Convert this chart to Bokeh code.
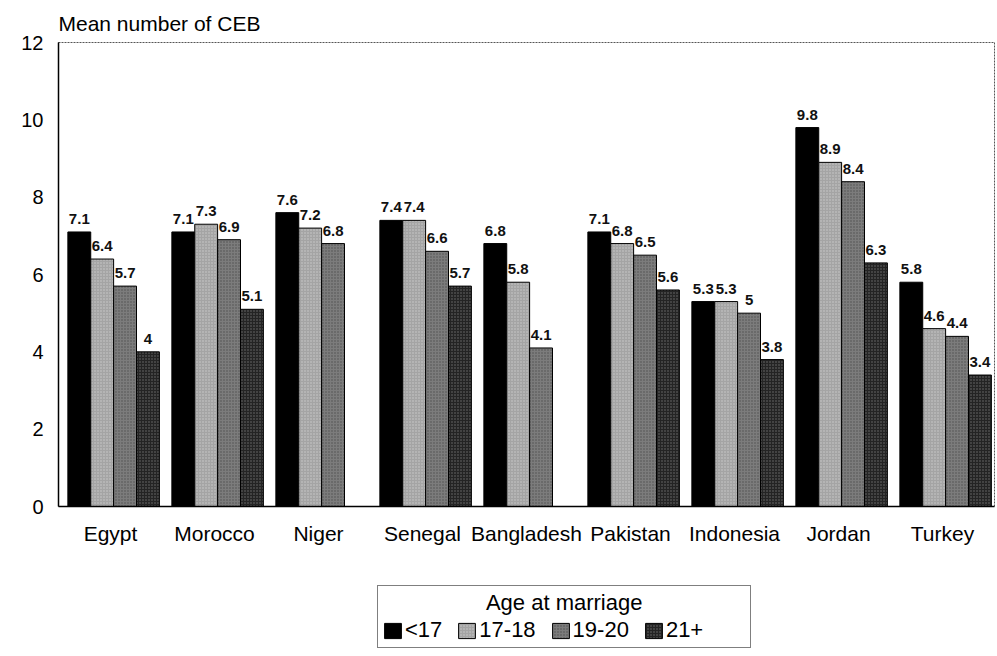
from bokeh.plotting import figure
from bokeh.layouts import column
from bokeh.models import ColumnDataSource, Legend, LegendItem, Range1d, FactorRange, FixedTicker
from bokeh.transform import dodge
from bokeh.embed import file_html
from bokeh.resources import INLINE
from bokeh.core.properties import value

countries = ["Egypt", "Morocco", "Niger", "Senegal", "Bangladesh", "Pakistan", "Indonesia", "Jordan", "Turkey"]
groups = ["<17", "17-18", "19-20", "21+"]
age_lt17 = [7.1, 7.1, 7.6, 7.4, 6.8, 7.1, 5.3, 9.8, 5.8]
age_17_18 = [6.4, 7.3, 7.2, 7.4, 5.8, 6.8, 5.3, 8.9, 4.6]
age_19_20 = [5.7, 6.9, 6.8, 6.6, 4.1, 6.5, 5.0, 8.4, 4.4]
age_21p = [4.0, 5.1, None, 5.7, None, 5.6, 3.8, 6.3, 3.4]
y_ticks = [0, 2, 4, 6, 8, 10, 12]
legend_title = "Age at marriage"
y_title = "Mean number of CEB"

series = [age_lt17, age_17_18, age_19_20, age_21p]
colors = ["#000000", "#a4a4a4", "#7c7c7c", "#242424"]
hatches = [None, "dot", "dot", "dot"]
hatch_colors = ["#000000", "#ffffff", "#000000", "#ffffff"]
hatch_alphas = [0.0, 0.45, 0.35, 0.35]
offsets = [-0.30, -0.08, 0.14, 0.36]
FONT = "Liberation Sans"


def style(i):
    s = dict(fill_color=colors[i], line_color="#000000", line_width=1)
    if hatches[i]:
        s.update(hatch_pattern=hatches[i], hatch_color=hatch_colors[i],
                 hatch_alpha=hatch_alphas[i], hatch_scale=3, hatch_weight=1)
    return s


p = figure(x_range=FactorRange(*countries), y_range=Range1d(0, 12),
           width=997, height=576, output_backend="svg", toolbar_location=None,
           min_border_left=58, min_border_right=3, min_border_top=42, min_border_bottom=70)
p.xgrid.visible = False
p.ygrid.visible = False
p.outline_line_color = "#555555"
p.outline_line_dash = "2 1"
p.outline_line_width = 1

for i, (vals, off) in enumerate(zip(series, offsets)):
    xs = [c for c, v in zip(countries, vals) if v is not None]
    ys = [v for v in vals if v is not None]
    labels = [("%g" % v) for v in ys]
    src = ColumnDataSource(dict(x=xs, top=ys, lab=labels))
    p.vbar(x=dodge("x", off, range=p.x_range), top="top", width=0.22, source=src, **style(i))
    p.text(x=dodge("x", off, range=p.x_range), y="top", text="lab", source=src,
           text_align="center", text_baseline="bottom", y_offset=-8,
           text_font=value(FONT), text_font_size="15px", text_font_style="bold",
           text_color="#111111")

p.yaxis.ticker = FixedTicker(ticks=y_ticks)
p.yaxis.major_tick_line_color = None
p.yaxis.minor_tick_line_color = None
p.yaxis.axis_line_color = "#000000"
p.yaxis.axis_line_width = 1.5
p.yaxis.major_label_text_font = FONT
p.yaxis.major_label_text_font_size = "20px"
p.yaxis.major_label_text_color = "#000000"
p.yaxis.major_label_standoff = 9

p.xaxis.major_tick_line_color = None
p.xaxis.minor_tick_line_color = None
p.xaxis.axis_line_color = "#000000"
p.xaxis.axis_line_width = 1.5
p.xaxis.major_label_text_font = FONT
p.xaxis.major_label_text_font_size = "21px"
p.xaxis.major_label_text_color = "#000000"
p.xaxis.major_label_standoff = 9

p.title.text = y_title
p.title.text_font = FONT
p.title.text_font_size = "21px"
p.title.text_font_style = "normal"
p.title.text_color = "#000000"
p.title.offset = 0
p.title.standoff = 15

# second panel holding the legend, below the chart
lf = figure(width=997, height=80, x_range=Range1d(0, 1), y_range=Range1d(0, 1),
            x_axis_type=None, y_axis_type=None, output_backend="svg", toolbar_location=None,
            min_border=0, min_border_left=0, min_border_right=0, min_border_top=0, min_border_bottom=0)
lf.outline_line_color = None
lf.grid.visible = False

items = []
for i, g in enumerate(groups):
    # tiny swatch-source bar, hidden behind the opaque legend box
    r = lf.vbar(x=[0.5], top=[0.45], bottom=[0.44], width=0.005, **style(i))
    items.append(LegendItem(label=g, renderers=[r]))

pad = "\u00a0" * 17
legend = Legend(items=items, orientation="horizontal", location=(319, 8),
                title=pad + legend_title + pad,
                title_text_font=FONT, title_text_font_size="22px", title_text_font_style="normal",
                title_text_color="#000000", title_standoff=1,
                label_text_font=FONT, label_text_font_size="22px", label_text_color="#000000",
                glyph_width=21, glyph_height=19, label_standoff=2, spacing=14,
                padding=4, margin=0, border_line_color="#000000", border_line_width=1,
                label_height=20, background_fill_color="#ffffff", background_fill_alpha=1.0)
lf.add_layout(legend, "center")

layout = column(p, lf, spacing=0)
open("out.html", "w").write(file_html(layout, INLINE))
